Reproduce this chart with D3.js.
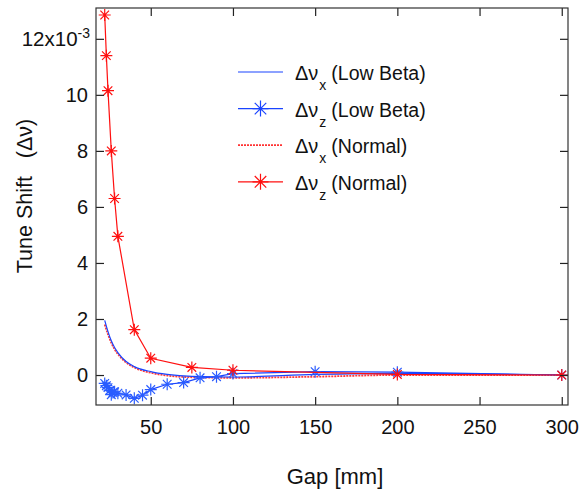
<!DOCTYPE html>
<html>
<head>
<meta charset="utf-8">
<script src="https://cdn.jsdelivr.net/npm/d3@7"></script>
<style>
  body { margin: 0; background: #fff; }
  text { font-family: "Liberation Sans", Arial, sans-serif; fill: #111; }
</style>
</head>
<body>
<div id="graphicContainer"></div>
<script>

// values are in units of 1e-3
var gapNormalZ = [22, 23, 24, 26, 28, 30, 40, 50, 75, 100, 200, 300]
var tuneNormalZ = [12.85, 11.4, 10.15, 8.0, 6.3, 4.95, 1.62, 0.6, 0.27, 0.17, 0.02, 0.0]

var gapLowZ = [22, 23, 24, 25, 26, 27, 28, 30, 35, 40, 45, 50, 60, 70, 80, 90, 100, 150, 200, 300]
var tuneLowZ = [-0.3, -0.38, -0.45, -0.55, -0.7, -0.62, -0.6, -0.65, -0.71, -0.83, -0.72, -0.52, -0.33, -0.27, -0.1, -0.06, 0.05, 0.12, 0.1, 0.0]

var gapLowX = [22, 24, 26, 28, 30, 35, 40, 50, 60, 75, 100, 150, 200, 300]
var tuneLowX = [1.95, 1.55, 1.22, 0.98, 0.8, 0.48, 0.3, 0.12, 0.02, -0.05, -0.07, 0.02, 0.06, 0.0]

var gapNormalX = [22, 24, 26, 28, 30, 35, 40, 50, 60, 75, 100, 150, 200, 300]
var tuneNormalX = [1.8, 1.45, 1.15, 0.92, 0.75, 0.45, 0.27, 0.08, -0.02, -0.08, -0.1, -0.06, 0.0, 0.0]

var xTicks = [50, 100, 150, 200, 250, 300]
var yTicks = [0, 2, 4, 6, 8, 10, 12]

var legendItems = [
  { sub: "x", label: "(Low Beta)", colour: "#1a44ff", dash: null, star: false },
  { sub: "z", label: "(Low Beta)", colour: "#1a44ff", dash: null, star: true },
  { sub: "x", label: "(Normal)", colour: "#ff3333", dash: "2,1", star: false },
  { sub: "z", label: "(Normal)", colour: "#ff1010", dash: null, star: true }
]

var width = 588
var height = 491
var margin = { top: 8, right: 20, bottom: 86, left: 96 }

var svg = d3.select("#graphicContainer").append("svg")
  .attr("width", width)
  .attr("height", height)

var x = d3.scaleLinear()
  .domain([16.7, 303.8])
  .range([margin.left, width - margin.right])

var y = d3.scaleLinear()
  .domain([-1.07, 13.1])
  .range([height - margin.bottom, margin.top])

var starPath = function (r) {
  var a = r * 0.72
  return `M${-r},0L${r},0M0,${-r}L0,${r}M${-a},${-a}L${a},${a}M${-a},${a}L${a},${-a}`
}

var line = d3.line()
  .x(d => x(d[0]))
  .y(d => y(d[1]))

svg.append("clipPath").attr("id", "plotClip")
  .append("rect")
  .attr("x", margin.left)
  .attr("y", margin.top)
  .attr("width", x.range()[1] - margin.left)
  .attr("height", y.range()[0] - margin.top)

var plot = svg.append("g").attr("clip-path", "url(#plotClip)")

// Normal x (dashed)
plot.append("path")
  .datum(d3.zip(gapNormalX, tuneNormalX))
  .attr("d", line.curve(d3.curveMonotoneX))
  .attr("fill", "none")
  .attr("stroke", "#ff3a3a")
  .attr("stroke-width", 1.8)
  .attr("stroke-dasharray", "2,1")

// Low beta x
plot.append("path")
  .datum(d3.zip(gapLowX, tuneLowX))
  .attr("d", line.curve(d3.curveMonotoneX))
  .attr("fill", "none")
  .attr("stroke", "#1a44ff")
  .attr("stroke-width", 1.2)

// Low beta z
plot.append("path")
  .datum(d3.zip(gapLowZ, tuneLowZ))
  .attr("d", line.curve(d3.curveLinear))
  .attr("fill", "none")
  .attr("stroke", "#1a44ff")
  .attr("stroke-width", 1.2)

plot.append("g")
  .selectAll("path")
  .data(d3.zip(gapLowZ, tuneLowZ))
  .enter()
  .append("path")
  .attr("transform", d => `translate(${x(d[0])},${y(d[1])})`)
  .attr("d", starPath(6))
  .attr("stroke", "#2a5cff")
  .attr("stroke-width", 1.2)

// Normal z
plot.append("path")
  .datum(d3.zip(gapNormalZ, tuneNormalZ))
  .attr("d", line.curve(d3.curveLinear))
  .attr("fill", "none")
  .attr("stroke", "#ff1010")
  .attr("stroke-width", 1.2)

plot.append("g")
  .selectAll("path")
  .data(d3.zip(gapNormalZ, tuneNormalZ))
  .enter()
  .append("path")
  .attr("transform", d => `translate(${x(d[0])},${y(d[1])})`)
  .attr("d", starPath(6))
  .attr("stroke", "#ff1010")
  .attr("stroke-width", 1.2)

// axes: ticks point inward, mirrored on top and right
var x0 = margin.left, x1 = width - margin.right
var y0 = height - margin.bottom, y1 = margin.top

svg.append("g")
  .attr("class", "axisgroup")
  .attr("transform", `translate(0,${y0})`)
  .call(d3.axisBottom(x).tickValues(xTicks).tickSize(-8).tickSizeOuter(0).tickPadding(15))

svg.append("g")
  .attr("transform", `translate(0,${y1})`)
  .call(d3.axisTop(x).tickValues(xTicks).tickSize(-8).tickSizeOuter(0).tickFormat(""))

var yAxisG = svg.append("g")
  .attr("class", "axisgroup")
  .attr("transform", `translate(${x0},0)`)
  .call(d3.axisLeft(y).tickValues(yTicks).tickSize(-8).tickSizeOuter(0).tickPadding(8)
    .tickFormat(d => d === 12 ? "" : d))

svg.append("g")
  .attr("transform", `translate(${x1},0)`)
  .call(d3.axisRight(y).tickValues(yTicks).tickSize(-8).tickSizeOuter(0).tickFormat(""))

svg.selectAll(".domain").remove()
svg.selectAll(".tick line").attr("stroke", "#222").attr("stroke-width", 1.2)
svg.selectAll(".axisgroup text").attr("font-size", 20).attr("fill", "#111")
  .attr("font-family", "Liberation Sans, Arial, sans-serif")

var topLabel = yAxisG.append("text")
  .attr("x", -6)
  .attr("y", y(12))
  .attr("dy", "0.35em")
  .attr("text-anchor", "end")
  .attr("font-size", 20.5)
  .attr("fill", "#111")
topLabel.append("tspan").text("12x10")
topLabel.append("tspan").attr("font-size", 14).attr("dy", "-0.55em").text("-3")

svg.append("rect")
  .attr("x", x0)
  .attr("y", y1)
  .attr("width", x1 - x0)
  .attr("height", y0 - y1)
  .attr("fill", "none")
  .attr("stroke", "#333")
  .attr("stroke-width", 1.2)

// axis titles
svg.append("text")
  .attr("x", 335)
  .attr("y", 484)
  .attr("text-anchor", "middle")
  .attr("font-size", 22)
  .text("Gap [mm]")

svg.append("text")
  .attr("transform", `translate(32,196) rotate(-90)`)
  .attr("text-anchor", "middle")
  .attr("font-size", 21.5)
  .attr("xml:space", "preserve")
  .text("Tune Shift   (\u0394\u03bd)")

// legend
var legend = svg.append("g").attr("transform", "translate(238,72)")

legendItems.forEach(function (item, i) {
  var row = legend.append("g").attr("transform", `translate(0,${i * 36.6})`)

  row.append("line")
    .attr("x1", 0).attr("x2", 45)
    .attr("y1", 0).attr("y2", 0)
    .attr("stroke", item.colour)
    .attr("stroke-width", item.dash ? 1.8 : 1.2)
    .attr("stroke-dasharray", item.dash)

  if (item.star) {
    row.append("path")
      .attr("transform", "translate(22.5,0)")
      .attr("d", starPath(8))
      .attr("stroke", item.colour)
      .attr("stroke-width", 1.2)
  }

  var t = row.append("text")
    .attr("x", 57)
    .attr("y", 8)
    .attr("font-size", 20)
  t.append("tspan").text("\u0394\u03bd")
  t.append("tspan").attr("font-size", 14).attr("dy", 10).attr("dx", 1).text(item.sub)
  t.append("tspan").attr("font-size", 19.5).attr("dy", -10).attr("dx", 5).text(item.label)
})

</script>
</body>
</html>
